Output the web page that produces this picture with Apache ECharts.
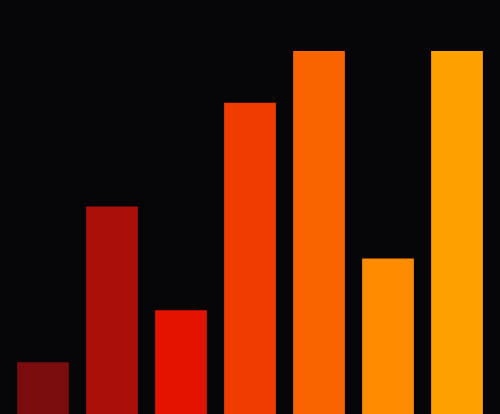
<!DOCTYPE html>
<html>
<head>
<meta charset="utf-8">
<script src="https://cdn.jsdelivr.net/npm/echarts@6/dist/echarts.min.js"></script>
<style>
  html, body { margin: 0; padding: 0; background: #050407; }
  #barCharts { width: 500px; height: 414px; }
</style>
</head>
<body>
<div id="barCharts"></div>
<script>
var categories = ['A', 'B', 'C', 'D', 'E', 'F', 'G'];
var values = [1, 4, 2, 6, 7, 3, 7];
var barColors = ['#7a0c0e', '#ab0f0a', '#e41300', '#f03c00', '#f76400', '#ff8c00', '#ffa100'];

var myChart = echarts.init(document.getElementById('barCharts'));
var option = {
	backgroundColor: '#050407',
	animation: false,
	grid: {
		left: 8.5,
		right: 8.5,
		top: 51,
		bottom: 0
	},
	xAxis: [{
		type: 'category',
		data: categories,
		show: false
	}],
	yAxis: [{
		type: 'value',
		min: 0,
		max: 7,
		show: false
	}],
	series: [{
		type: 'bar',
		barCategoryGap: '25%',
		data: values.map(function (v, i) {
			return { value: v, itemStyle: { color: barColors[i] } };
		})
	}]
};
myChart.setOption(option);
</script>
</body>
</html>
